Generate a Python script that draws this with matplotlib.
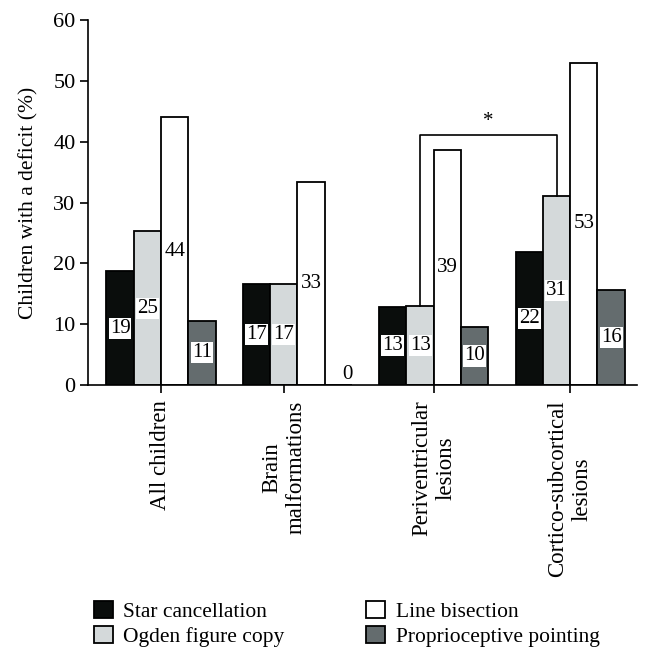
import matplotlib.pyplot as plt
import numpy as np

# data
groups = ['All children', 'Brain\nmalformations', 'Periventricular\nlesions', 'Cortico-subcortical\nlesions']
series = ['Star cancellation', 'Ogden figure copy', 'Line bisection', 'Proprioceptive pointing']
star = [18.7, 16.7, 12.9, 21.8]
ogden = [25.3, 16.7, 13.0, 31.1]
line_bis = [44.0, 33.3, 38.7, 53.0]
proprio = [10.6, 0.0, 9.6, 15.6]
labels = [[19, 17, 13, 22], [25, 17, 13, 31], [44, 33, 39, 53], [11, 0, 10, 16]]
colors = ['#0a0d0c', '#d4d9da', '#ffffff', '#646c6e']

plt.rcParams['font.family'] = ['Liberation Serif', 'DejaVu Serif']

fig = plt.figure(figsize=(6.52, 6.63), dpi=100)
ax = fig.add_axes([0.135, 0.419, 0.842, 0.551])

x = np.arange(len(groups))
w = 0.2
values = [star, ogden, line_bis, proprio]
for i, (vals, col, name) in enumerate(zip(values, colors, series)):
    pos = x + (i - 1.5) * w
    ax.bar(pos, vals, width=w, color=col, edgecolor='black', linewidth=1.3, label=name)
    for p, v, lab in zip(pos, vals, labels[i]):
        if v == 0:
            ax.text(p + 0.07, 1.7, str(lab), ha='center', va='center', fontsize=15)
        else:
            ax.text(p, v / 2, str(lab), ha='center', va='center', fontsize=15,
                    bbox=dict(facecolor='white', edgecolor='none', pad=0.8))

# significance bracket between Ogden bars of periventricular and cortico-subcortical
x1 = x[2] - 0.5 * w
x2 = x[3] - 0.5 * w
top = 41.1
ax.plot([x1, x1, x2, x2], [ogden[2], top, top, ogden[3]], color='black', linewidth=1.2)
ax.text((x1 + x2) / 2, top + 0.6, '*', ha='center', va='bottom', fontsize=15)

ax.set_xlim(-0.535, 3.49)
ax.set_ylim(0, 60)
ax.set_yticks(range(0, 61, 10))
ax.set_xticks(x - np.array([0, 0.1, 0, 0]))
ax.set_xticklabels(groups, rotation=90, ha='center', va='top', multialignment='center')
ax.tick_params(axis='both', direction='out', length=6, width=1.2, labelsize=16, pad=3)
ax.tick_params(axis='x', labelsize=16.5, pad=5)
ax.set_ylabel('Children with a deficit (%)', fontsize=15.5, labelpad=11)
for s in ['top', 'right']:
    ax.spines[s].set_visible(False)
for s in ['left', 'bottom']:
    ax.spines[s].set_linewidth(1.2)

fig.legend(loc='center', bbox_to_anchor=(0.532, 0.059), ncol=2, frameon=False,
           fontsize=15.5, handlelength=0.85, handleheight=0.85, handletextpad=0.5,
           columnspacing=3.8, labelspacing=0.2)

fig.savefig('out.png', dpi=100)
